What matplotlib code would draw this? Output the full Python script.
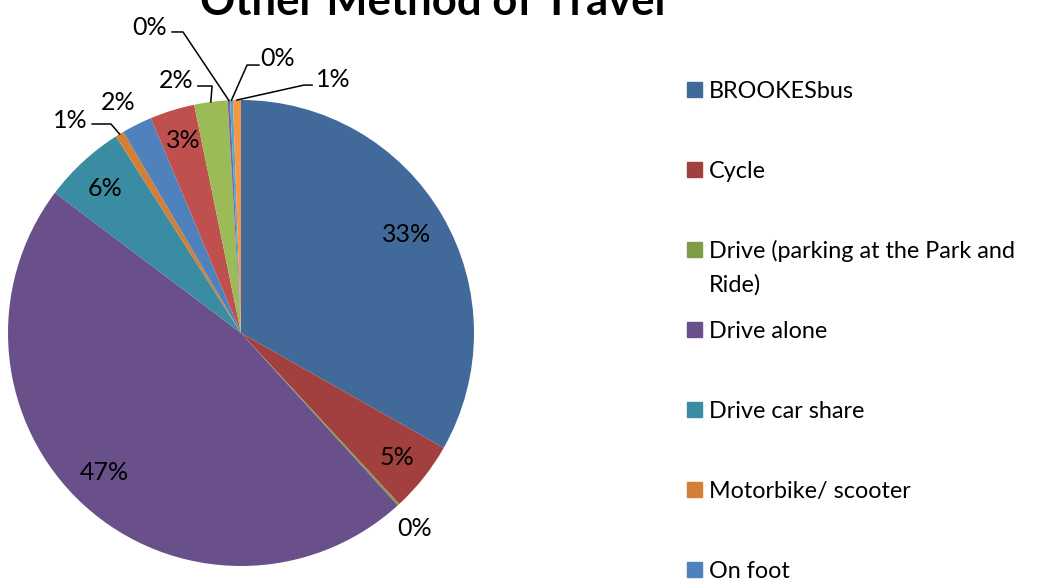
import numpy as np
import matplotlib
matplotlib.use("Agg")
import matplotlib.pyplot as plt
from matplotlib.patches import Rectangle

plt.rcParams["font.family"] = ["Lato", "DejaVu Sans"]

# Anteile (in %), im Uhrzeigersinn ab 12 Uhr
categories = [
    "BROOKESbus", "Cycle", "Drive (parking at the Park and\nRide)", "Drive alone",
    "Drive car share", "Motorbike/ scooter", "On foot",
    "Other 1", "Other 2", "Other 3", "Other 4", "Other 5",
]
shares = [33.2, 4.9, 0.15, 47.0, 5.7, 0.6, 2.1, 3.1, 2.3, 0.17, 0.2, 0.55]
colors = [
    "#41699A", "#A1403E", "#7F9C47", "#69508A", "#3A8CA2", "#D37F35",
    "#4F81BD", "#C0504D", "#9BBB59", "#8064A2", "#4BACC6", "#F79646",
]
n_legend = 7   # nur die ersten 7 Einträge sind im Bild sichtbar

# Position der Prozent-Labels (Datenkoordinaten, Radius = 1)
label_pos = [
    (0.712, 0.421), (0.670, -0.536), (0.747, -0.837), (-0.588, -0.597),
    (-0.584, 0.622), (-0.734, 0.914), (-0.528, 0.991), (-0.249, 0.828),
    (-0.279, 1.082), (-0.391, 1.313), (0.155, 1.180), (0.395, 1.090),
]
# Führungslinien: index -> (Start, Knick)
leaders = {
    5: [(-0.639, 0.897), (-0.558, 0.897)],
    8: [(-0.185, 1.060), (-0.124, 1.060)],
    9: [(-0.296, 1.292), (-0.249, 1.292)],
    10: [(0.077, 1.150), (0.026, 1.150)],
    11: [(0.305, 1.064), (0.270, 1.064)],
}

W, H = 1038, 587
fig = plt.figure(figsize=(W / 100, H / 100), dpi=100)

cx, cy, r = 241, 333, 233
ax = fig.add_axes([(cx - r) / W, (H - cy - r) / H, 2 * r / W, 2 * r / H])
wedges, _ = ax.pie(shares, colors=colors, startangle=90, counterclock=False,
                   wedgeprops={"linewidth": 0})
ax.set_xlim(-1, 1)
ax.set_ylim(-1, 1)
ax.set_aspect("equal")

total = sum(shares)
for i, w in enumerate(wedges):
    pct = shares[i] / total * 100
    x, y = label_pos[i]
    ax.text(x, y, f"{pct:.0f}%", fontsize=18, ha="center", va="center", clip_on=False)
    if i in leaders:
        theta = np.deg2rad((w.theta1 + w.theta2) / 2)
        pts = leaders[i] + [(np.cos(theta), np.sin(theta))]
        xs, ys = zip(*pts)
        ax.plot(xs, ys, color="black", lw=1.1, clip_on=False)

# Legende (manuell, Einträge mit festem Abstand)
for i in range(n_legend):
    yb = 98 + i * 80    # Grundlinie in Pixeln von oben
    fig.patches.append(Rectangle((687 / W, 1 - (yb - 1) / H), 15 / W, 15 / H,
                                 transform=fig.transFigure, color=colors[i]))
    # mehrzeilige Einträge Zeile für Zeile, damit das Kästchen an der ersten Zeile sitzt
    for j, line in enumerate(categories[i].split("\n")):
        fig.text(709 / W, 1 - (yb + j * 34) / H, line, fontsize=16.8,
                 ha="left", va="baseline")

fig.text(433 / W, 1 - 15 / H, "Other Method of Travel", fontsize=31.4,
         fontweight="bold", ha="center", va="baseline")

fig.savefig("out.png", dpi=100)
